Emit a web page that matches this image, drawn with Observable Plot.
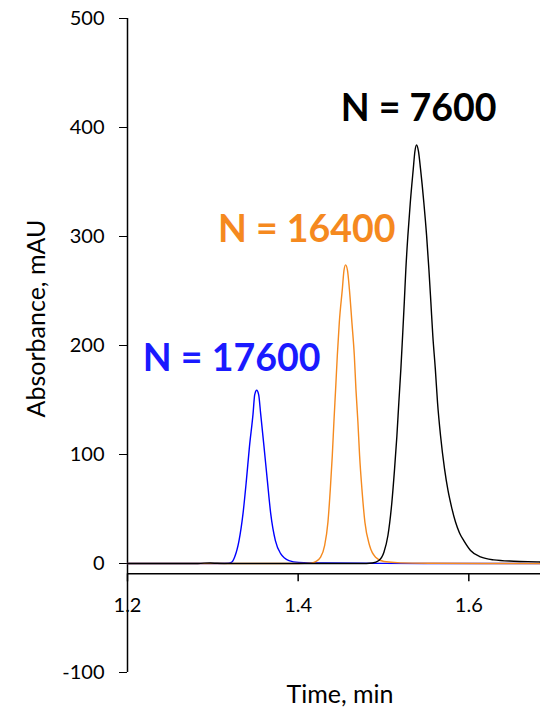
<!DOCTYPE html>
<html>
<head>
<meta charset="utf-8">
<script src="https://cdn.jsdelivr.net/npm/d3@7"></script>
<script src="https://cdn.jsdelivr.net/npm/@observablehq/plot@0.6"></script>
<style>
  html, body { margin: 0; padding: 0; background: #fff; }
  #chart svg { display: block; }
</style>
</head>
<body>
<div id="chart"></div>
<script>
// ---- Data ----
const blueTime = [1.20, 1.30, 1.318, 1.3218, 1.3256, 1.3307, 1.3354, 1.3393, 1.3429, 1.3471, 1.3491, 1.3514, 1.3537, 1.3561, 1.3600, 1.3639, 1.3678, 1.3733, 1.3795, 1.3892, 1.4006, 1.43, 1.50, 1.60, 1.684];
const blueAbs  = [0, 0, 0.2, 1, 6, 21, 46, 76, 107, 137, 155, 159, 155, 137, 107, 76, 46, 21, 9, 2.7, 1, 0.4, 0.1, 0, 0];

const orangeTime = [1.20, 1.40, 1.415, 1.4205, 1.4263, 1.4310, 1.4349, 1.4377, 1.4400, 1.4419, 1.4439, 1.4459, 1.4482, 1.4518, 1.4537, 1.4556, 1.4578, 1.4600, 1.4630, 1.4658, 1.4677, 1.4700, 1.4720, 1.4747, 1.4782, 1.4837, 1.4907, 1.5005, 1.52, 1.56, 1.62, 1.684];
const orangeAbs  = [0, 0, 0.3, 1.8, 5.8, 16.5, 38, 68.5, 99, 130, 160, 191, 221, 252, 269, 274, 269, 252, 221, 191, 160, 130, 99, 68.5, 38, 16.5, 5.8, 1.8, 0.6, 0.2, 0, 0];

const blackTime = [1.20, 1.28, 1.29, 1.297, 1.305, 1.32, 1.48, 1.4869, 1.4946, 1.5005, 1.5052, 1.5098, 1.5130, 1.5157, 1.5180, 1.5204, 1.5224, 1.5244, 1.5262, 1.5286, 1.5314, 1.5349, 1.5368, 1.5388, 1.5410, 1.5434, 1.5473, 1.5505, 1.5532, 1.5555, 1.5578, 1.5607, 1.5633, 1.5669, 1.5715, 1.5756, 1.5797, 1.5844, 1.5891, 1.5941, 1.6020, 1.6137, 1.6293, 1.6527, 1.6801, 1.684];
const blackAbs  = [0, 0, 0.3, 0.4, 0.2, 0, 0, 0.4, 2.8, 10.4, 25.7, 56, 87, 117, 148, 179, 209, 240, 270, 301, 331, 362, 378, 384, 378, 362, 331, 301, 270, 240, 209, 179, 148, 117, 87, 67, 52, 38, 28, 21, 12, 6, 3.3, 2.1, 1.5, 1.4];

const labelTexts = ["N = 17600", "N = 16400", "N = 7600"];
const labelTime  = [1.2179, 1.3060, 1.4498];
const labelAbs   = [177, 294.5, 406.4];
const labelColors = ["#1a1aff", "#f5891f", "#000000"];

const xTicks = [1.2, 1.4, 1.6];
const yTicks = [-100, 0, 100, 200, 300, 400, 500];
const xAxisCross = -9.5;

// ---- Build ----
const W = 540, H = 707, mT = 18, mB = 35, mL = 127, mR = 0;
const pxPerUnit = (H - mT - mB) / 600;
const tickLen = 8 / pxPerUnit;

const zip = (ts, vs, s) => ts.map((t, i) => ({t, v: vs[i], s}));
const blue = zip(blueTime, blueAbs, "blue");
const orange = zip(orangeTime, orangeAbs, "orange");
const black = zip(blackTime, blackAbs, "black");
const labels = labelTexts.map((text, i) => ({text, t: labelTime[i], v: labelAbs[i], c: labelColors[i]}));

const chart = Plot.plot({
  width: W, height: H,
  marginTop: mT, marginBottom: mB, marginLeft: mL, marginRight: mR,
  style: {fontFamily: "Lato, 'Open Sans', sans-serif", fontSize: "20px", color: "#000", background: "#fff"},
  x: {domain: [1.2, 1.684], axis: null},
  y: {domain: [-100, 500], ticks: yTicks, tickSize: 8, tickPadding: 15, label: null, tickFormat: d => String(d)},
  marks: [
    // y axis line
    Plot.ruleX([1.2], {y1: -100, y2: 500, stroke: "#000", strokeWidth: 1.5}),
    // x axis line
    Plot.ruleY([xAxisCross], {stroke: "#000", strokeWidth: 1.5}),
    Plot.ruleX(xTicks, {x: d => d, y1: xAxisCross, y2: xAxisCross - tickLen, stroke: "#000", strokeWidth: 1.5}),
    Plot.text(xTicks, {x: d => d, y: xAxisCross, dy: 32, text: d => d.toFixed(1), fontSize: 20, lineAnchor: "middle", fill: "#000"}),
    // curves
    Plot.line(blue, {x: "t", y: "v", stroke: "#0000ff", strokeWidth: 1.4, curve: "monotone-x"}),
    Plot.line(orange, {x: "t", y: "v", stroke: "#f58a1f", strokeWidth: 1.4, curve: "monotone-x"}),
    Plot.line(black, {x: "t", y: "v", stroke: "#000000", strokeWidth: 1.4, curve: "monotone-x"}),
    // peak labels
    Plot.text(labels, {x: "t", y: "v", text: "text", fill: "c", fontSize: 37.5, fontWeight: "bold", textAnchor: "start", lineAnchor: "bottom"}),
    // axis titles
    Plot.text(["Absorbance, mAU"], {frameAnchor: "left", dx: 36 - mL, dy: -27, rotate: -90, text: d => d, fontSize: 25, textAnchor: "middle", lineAnchor: "middle", fill: "#000"}),
    Plot.text(["Time, min"], {frameAnchor: "bottom", dx: 6, dy: 30, text: d => d, fontSize: 25, textAnchor: "middle", lineAnchor: "bottom", fill: "#000"})
  ]
});
document.getElementById("chart").appendChild(chart);
</script>
</body>
</html>
